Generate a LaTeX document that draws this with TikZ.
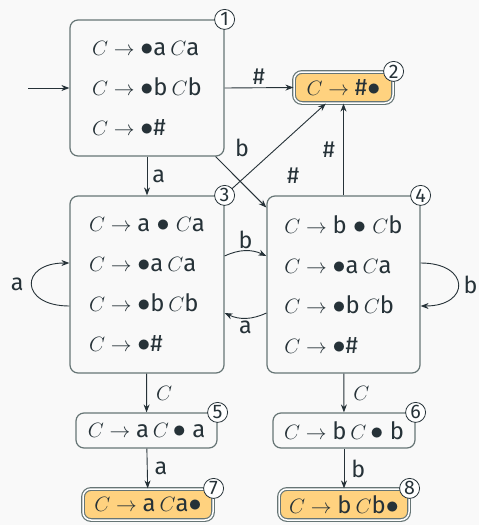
\documentclass[tikz,border=0pt]{standalone}
\usepackage{fontspec}
\setmainfont{Fira Sans}[Scale=1.06]
\usetikzlibrary{arrows.meta,calc}
\definecolor{ink}{HTML}{263238}
\definecolor{edgec}{HTML}{667575}
\definecolor{acc}{HTML}{FFD27F}
\definecolor{bg}{HTML}{F9F9F9}
\newcommand{\bul}{\scalebox{1.25}{$\bullet$}}
\begin{document}
\begin{tikzpicture}[x=1pt,y=-1pt,
  state/.style={draw=edgec, line width=1.2pt, rounded corners=8pt, text=ink, align=left,
    font=\fontsize{22.5}{40}\selectfont, inner sep=0pt},
  accept/.style={state, fill=acc, double=white, double distance=1.5pt},
  num/.style={circle, draw=ink, fill=white, line width=0.8pt, inner sep=0pt, minimum size=20pt,
    text=ink, font=\fontsize{18.5}{18.5}\selectfont},
  arr/.style={-{Stealth[length=8pt,width=6pt]}, draw=ink, line width=0.9pt},
  lab/.style={text=ink, font=\fontsize{22}{22}\selectfont, inner sep=2pt}]
\path[fill=bg] (0,0) rectangle (479,525);
\useasboundingbox (0,0) rectangle (479,525);
\node[state, minimum width=154pt, minimum height=136pt] (n1) at (147,88)
  {$C\to{}$\bul a\,$C$a\\$C\to{}$\bul b\,$C$b\\$C\to{}$\bul\#};
\node[accept, minimum width=99pt, minimum height=31pt] (n2) at (343.5,87.5) {$C\to{}$\#\bul};
\node[state, minimum width=154pt, minimum height=177pt] (n3) at (147,284.5)
  {$C\to{}$a \bul{} $C$a\\$C\to{}$\bul a\,$C$a\\$C\to{}$\bul b\,$C$b\\$C\to{}$\bul\#};
\node[state, minimum width=153pt, minimum height=177pt] (n4) at (343.5,284.5)
  {$C\to{}$b \bul{} $C$b\\$C\to{}$\bul a\,$C$a\\$C\to{}$\bul b\,$C$b\\$C\to{}$\bul\#};
\node[state, minimum width=141pt, minimum height=35pt] (n5) at (146.5,430.5) {$C\to{}$a\,$C$\,\bul{} a};
\node[state, minimum width=142pt, minimum height=35pt] (n6) at (344,430.5) {$C\to{}$b\,$C$\,\bul{} b};
\node[accept, minimum width=130pt, minimum height=31pt] (n7) at (148,504.5) {$C\to{}$a\,$C$a\bul};
\node[accept, minimum width=130pt, minimum height=31pt] (n8) at (344,504.5) {$C\to{}$b\,$C$b\bul};
\coordinate (s) at (28,88);
\draw[arr] (s) -- (n1);
\draw[arr] (n1.east) -- (n2.west) node[lab, midway, above=1pt] {\#};
\draw[arr] (n1) -- (n3) node[lab, midway, right=3pt] {a};
\draw[arr] (n1) -- (n4) node[lab, pos=0.5, xshift=1pt, yshift=34pt] {b};
\draw[arr] (n3.north east) -- (n2) node[lab, pos=0.5, xshift=18pt, yshift=-26pt] {\#};
\draw[arr] (n4) -- (n2) node[lab, midway, left=6pt] {\#};
\draw[arr] ([yshift=28.5pt]n3.east) to[bend left=25] node[lab, above=0pt] {b} ([yshift=28.5pt]n4.west);
\draw[arr] ([yshift=-28.5pt]n4.west) to[bend left=25] node[lab, below=0pt] {a} ([yshift=-28.5pt]n3.east);
\draw[arr] ([yshift=-21.5pt]n3.west) .. controls +(-50,0) and +(-50,0) .. node[lab, left=6pt] {a} ([yshift=21.5pt]n3.west);
\draw[arr] ([yshift=21.5pt]n4.east) .. controls +(50,0) and +(50,0) .. node[lab, right=3pt] {b} ([yshift=-21.5pt]n4.east);
\draw[arr] (n3) -- (n5) node[lab, midway, right=7pt] {$C$};
\draw[arr] (n4) -- (n6) node[lab, midway, right=7pt] {$C$};
\draw[arr] (n5) -- (n7) node[lab, midway, right=5pt] {a};
\draw[arr] (n6) -- (n8) node[lab, midway, right=5pt] {b};
\node[num] (c1) at (n1.north east) {1};
\node[num] (c2) at (n2.north east) {2};
\node[num] (c3) at (n3.north east) {3};
\node[num] (c4) at (n4.north east) {4};
\node[num] (c5) at (n5.north east) {5};
\node[num] (c6) at (n6.north east) {6};
\node[num] (c7) at (n7.north east) {7};
\node[num] (c8) at (n8.north east) {8};
\end{tikzpicture}
\end{document}
